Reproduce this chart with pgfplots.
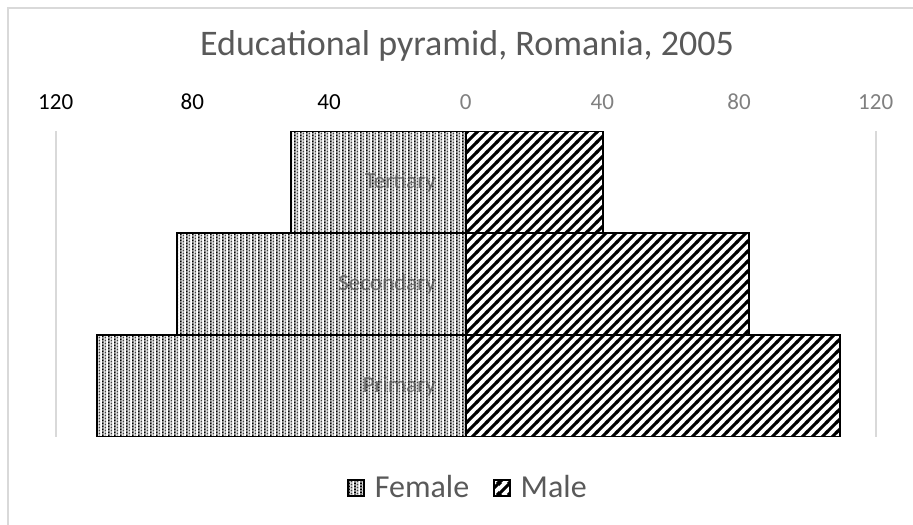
\documentclass[border=0pt]{standalone}
\usepackage{fontspec}
\setmainfont{Carlito}
\usepackage{pgfplots}
\pgfplotsset{compat=1.18}
\usetikzlibrary{patterns.meta}
\definecolor{txtgray}{RGB}{89,89,89}
\definecolor{tickgray}{RGB}{128,128,128}
\definecolor{gridgray}{RGB}{217,217,217}

% diagonal hatch for the male bars
\tikzdeclarepattern{
  name=malehatch,
  type=uncolored,
  bottom left={(0bp,0bp)},
  top right={(5.2bp,5.2bp)},
  tile size={(5.2bp,5.2bp)},
  code={
    \draw[line width=1.6bp] (-2.6bp,-2.6bp) -- (7.8bp,7.8bp);
    \draw[line width=1.6bp] (-2.6bp,2.6bp) -- (2.6bp,7.8bp);
    \draw[line width=1.6bp] (2.6bp,-2.6bp) -- (7.8bp,2.6bp);
  }
}
% dotted vertical texture for the female bars
\tikzdeclarepattern{
  name=femaledots,
  type=colored,
  bottom left={(0bp,0bp)},
  top right={(3bp,1.5bp)},
  tile size={(3bp,1.5bp)},
  code={
    \fill[black] (0bp,0bp) rectangle (1bp,0.75bp);
    \fill[black!45] (0bp,0.75bp) rectangle (1bp,1.5bp);
    \fill[black!75] (1.5bp,0.75bp) rectangle (2.4bp,1.5bp);
    \fill[black!30] (1.5bp,0bp) rectangle (2.4bp,0.75bp);
  }
}

\begin{document}
\begin{tikzpicture}
\useasboundingbox (0,0) rectangle (456.5bp,262.5bp);
\draw[gridgray, line width=1bp] (4bp,0) -- (4bp,258.5bp) -- (456.5bp,258.5bp);

\begin{axis}[
    at={(27.85bp,44bp)}, anchor=south west,
    scale only axis, width=410bp, height=153bp,
    xmin=-120, xmax=120, ymin=-0.5, ymax=2.5,
    xbar, bar width=1, bar shift=0pt,
    axis line style={draw=none},
    major tick length=0pt,
    ytick=\empty,
    xtick={-120,-80,-40,0,40,80,120},
    xticklabels={\textcolor{black}{120},\textcolor{black}{80},\textcolor{black}{40},
      \textcolor{tickgray}{0},\textcolor{tickgray}{40},\textcolor{tickgray}{80},\textcolor{tickgray}{120}},
    xticklabel pos=upper,
    xticklabel style={font=\fontsize{11.5bp}{13bp}\selectfont, anchor=base, yshift=11bp},
    extra x ticks={-120,120},
    extra x tick labels={},
    extra x tick style={grid=major, grid style={gridgray, line width=0.8bp}},
    legend style={at={(0.504,-0.167)}, anchor=center, draw=none, fill=none,
      legend columns=2, font=\fontsize{16bp}{18bp}\selectfont\color{txtgray},
      /tikz/every even column/.append style={column sep=10bp}},
    legend image code/.code={\draw[#1, line width=0.8bp] (0bp,-4bp) rectangle (8bp,4bp);},
    legend cell align=left,
    legend style={/tikz/every odd column/.append style={column sep=3bp}},
]
\addplot[draw=black, line width=1bp, pattern=femaledots]
  coordinates {(-108,0) (-84.6,1) (-51.2,2)};
\addlegendentry{Female}
\addplot[draw=black, line width=1bp, pattern=malehatch]
  coordinates {(109.5,0) (82.8,1) (40.1,2)};
\addlegendentry{Male}

\node[anchor=east, text=black!65, opacity=0.8, font=\fontsize{11.5bp}{13bp}\selectfont]
  at (axis cs:-6.7,2) {Tertiary};
\node[anchor=east, text=black!65, opacity=0.8, font=\fontsize{11.5bp}{13bp}\selectfont]
  at (axis cs:-6.7,1) {Secondary};
\node[anchor=east, text=black!65, opacity=0.8, font=\fontsize{11.5bp}{13bp}\selectfont]
  at (axis cs:-6.7,0) {Primary};
\end{axis}

\node[text=txtgray, font=\fontsize{18bp}{21bp}\selectfont] at (233.5bp,239.5bp)
  {Educational pyramid, Romania, 2005};
\end{tikzpicture}
\end{document}
